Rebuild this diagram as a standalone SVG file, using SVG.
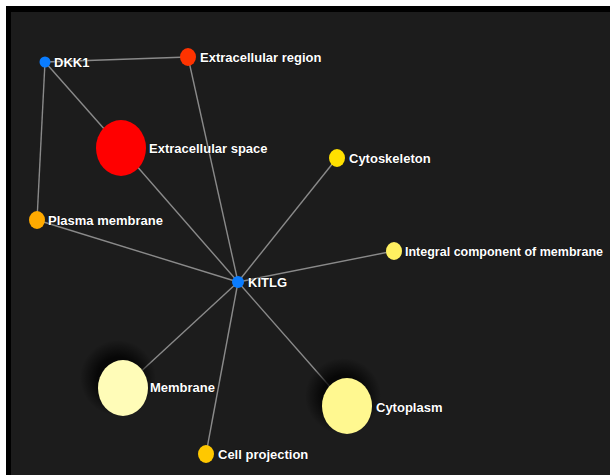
<svg xmlns="http://www.w3.org/2000/svg" width="610" height="475" viewBox="0 0 610 475">
<defs>
<style>
.lbl{font-family:"Liberation Sans",Arial,sans-serif;font-size:13px;font-weight:bold;fill:#ffffff;stroke:#000;stroke-width:0.6px;paint-order:stroke}
.edge{stroke:#8a8a8a;stroke-width:1.4;fill:none}
</style>
<radialGradient id="halo">
<stop offset="0.55" stop-color="#000" stop-opacity="0.75"/>
<stop offset="1" stop-color="#000" stop-opacity="0"/>
</radialGradient>
</defs>
<rect x="0" y="0" width="610" height="475" fill="#ffffff"/>
<rect x="6" y="6" width="604" height="469" fill="#000000"/>
<rect x="11" y="12" width="599" height="463" fill="#1c1c1c"/>
<g id="edges">
<line class="edge" x1="45" y1="62" x2="188" y2="57"/>
<line class="edge" x1="45" y1="62" x2="121" y2="148"/>
<line class="edge" x1="121" y1="148" x2="238" y2="282"/>
<line class="edge" x1="45" y1="62" x2="37" y2="220"/>
<line class="edge" x1="188" y1="57" x2="238" y2="282"/>
<line class="edge" x1="37" y1="220" x2="238" y2="282"/>
<line class="edge" x1="238" y1="282" x2="337" y2="158"/>
<line class="edge" x1="238" y1="282" x2="394" y2="251"/>
<line class="edge" x1="238" y1="282" x2="123" y2="388"/>
<line class="edge" x1="238" y1="282" x2="206" y2="454"/>
<line class="edge" x1="238" y1="282" x2="347" y2="406"/>
</g>
<g id="node-dkk1"><circle cx="45" cy="62" r="5.5" fill="#0a7cff"/><text class="lbl" x="54" y="67">DKK1</text></g>
<g id="node-extracellular-region"><ellipse cx="188" cy="57" rx="8" ry="9" fill="#ff3300"/><text class="lbl" x="200" y="62">Extracellular region</text></g>
<g id="node-extracellular-space"><ellipse cx="121" cy="148" rx="25" ry="28" fill="#ff0000"/><text class="lbl" x="149" y="153">Extracellular space</text></g>
<g id="node-cytoskeleton"><ellipse cx="337" cy="158" rx="8" ry="9" fill="#ffe000"/><text class="lbl" x="349" y="163">Cytoskeleton</text></g>
<g id="node-plasma-membrane"><ellipse cx="37" cy="220" rx="8" ry="9" fill="#ffaa00"/><text class="lbl" x="48" y="225">Plasma membrane</text></g>
<g id="node-integral"><ellipse cx="394" cy="251" rx="8" ry="9" fill="#fff060"/><text class="lbl" x="405" y="256" textLength="198" lengthAdjust="spacingAndGlyphs">Integral component of membrane</text></g>
<g id="node-kitlg"><circle cx="238" cy="282" r="6" fill="#0a7cff"/><text class="lbl" x="248" y="287">KITLG</text></g>
<g id="node-membrane"><circle cx="118" cy="378" r="38" fill="url(#halo)"/><ellipse cx="123" cy="388" rx="25" ry="28" fill="#fffcb8"/><text class="lbl" x="150" y="392">Membrane</text></g>
<g id="node-cytoplasm"><circle cx="343" cy="396" r="38" fill="url(#halo)"/><ellipse cx="347" cy="406" rx="25" ry="28" fill="#fff890"/><text class="lbl" x="376" y="412">Cytoplasm</text></g>
<g id="node-cell-projection"><ellipse cx="206" cy="454" rx="8" ry="9" fill="#ffc800"/><text class="lbl" x="218" y="459">Cell projection</text></g>
</svg>
